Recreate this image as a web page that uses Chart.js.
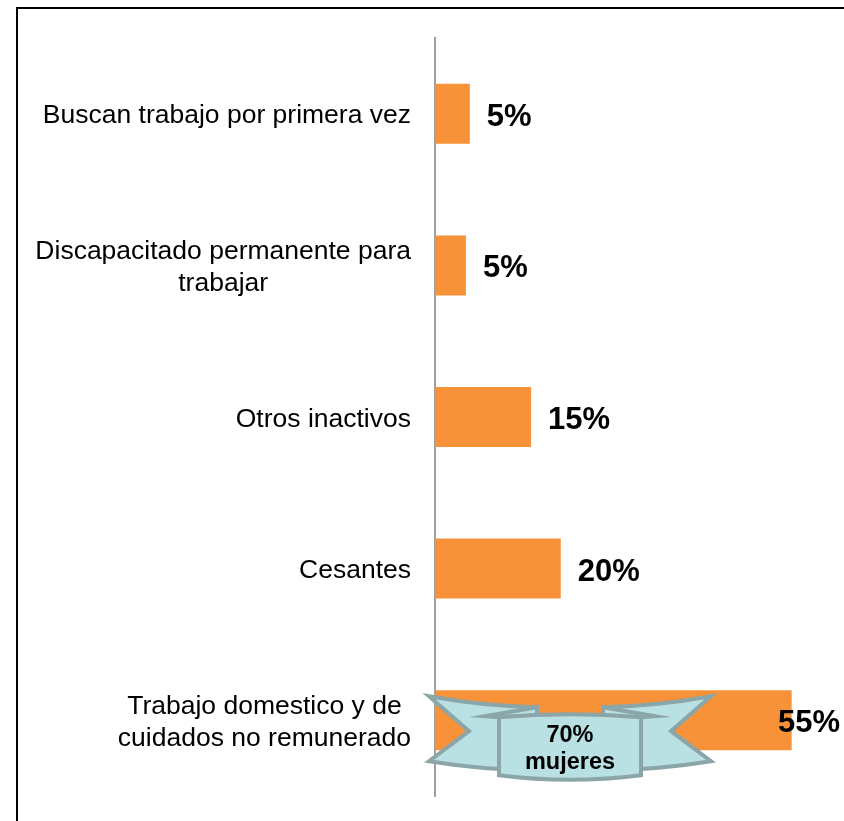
<!DOCTYPE html>
<html>
<head>
<meta charset="utf-8">
<script src="https://cdn.jsdelivr.net/npm/chart.js@4"></script>
<style>
  html, body { margin: 0; padding: 0; background: #fff; overflow: hidden; }
  #wrap { position: relative; width: 844px; height: 821px; }
  #frame { position: absolute; left: 16px; top: 7px; width: 900px; height: 900px;
           border-top: 2px solid #000; border-left: 2px solid #000; }
  canvas { position: absolute; left: 0; top: 0; }
</style>
</head>
<body>
<div id="wrap">
  <div id="frame"></div>
  <canvas id="barChart" width="844" height="821"></canvas>
</div>
<script>
// categorias (de arriba hacia abajo) y valores
const categories = [
  ['Buscan trabajo por primera vez'],
  ['Discapacitado permanente para', 'trabajar'],
  ['Otros inactivos'],
  ['Cesantes'],
  ['Trabajo domestico y de', 'cuidados no remunerado']
];
const values = [5.4, 4.8, 14.9, 19.5, 55.3];
const valueLabels = ['5%', '5%', '15%', '20%', '55%'];
const ribbonText = ['70%', 'mujeres'];
const ribbonIndex = 4;

const barColor = '#F79239';

// etiquetas de categoria: bloque alineado a la derecha, lineas centradas
const categoryLabels = {
    id: 'categoryLabels',
    afterDraw(chart) {
        const ctx = chart.ctx;
        const yScale = chart.scales.y;
        const right = chart.chartArea.left - 24;
        ctx.save();
        ctx.font = '26.5px "Liberation Sans", Arial, sans-serif';
        ctx.fillStyle = '#000';
        ctx.textAlign = 'center';
        ctx.textBaseline = 'alphabetic';
        categories.forEach((lines, i) => {
            const yc = yScale.getPixelForValue(i);
            const w = Math.max(...lines.map(l => ctx.measureText(l).width));
            const lh = 32;
            const first = yc + 9.5 - (lines.length - 1) * lh / 2;
            lines.forEach((l, j) => {
                ctx.fillText(l, right - w / 2, first + j * lh);
            });
        });
        ctx.restore();
    }
};

// porcentajes a la derecha de cada barra
const valueLabelPlugin = {
    id: 'valueLabels',
    afterDatasetsDraw(chart) {
        const ctx = chart.ctx;
        const meta = chart.getDatasetMeta(0);
        ctx.save();
        ctx.font = 'bold 31px "Liberation Sans", Arial, sans-serif';
        ctx.fillStyle = '#000';
        ctx.textAlign = 'left';
        ctx.textBaseline = 'alphabetic';
        meta.data.forEach((bar, i) => {
            const txt = valueLabels[i];
            const w = ctx.measureText(txt).width;
            let x = bar.x + 17;
            if (x + w > chart.width - 4) x = chart.width - 4 - w;
            ctx.fillText(txt, x, bar.y + 12);
        });
        ctx.restore();
    }
};

// cinta "70% mujeres" sobre la ultima barra
const ribbonPlugin = {
    id: 'ribbon',
    afterDatasetsDraw(chart) {
        const ctx = chart.ctx;
        const bar = chart.getDatasetMeta(0).data[ribbonIndex];
        const cx = chart.chartArea.left + 135;
        const cy = bar.y;
        ctx.save();
        ctx.lineWidth = 4;
        ctx.lineJoin = 'miter';
        ctx.strokeStyle = '#8BA6A8';
        ctx.fillStyle = '#B9E0E3';

        // alas (cada una por separado, la parte central queda oculta)
        [-1, 1].forEach(s => {
            ctx.beginPath();
            ctx.moveTo(cx + s * 141, cy - 24);
            ctx.quadraticCurveTo(cx + s * 85, cy - 14, cx + s * 33, cy - 13);
            ctx.lineTo(cx + s * 33, cy + 50);
            ctx.quadraticCurveTo(cx + s * 85, cy + 50, cx + s * 141, cy + 41);
            ctx.lineTo(cx + s * 101, cy + 11);
            ctx.closePath();
            ctx.fill();
            ctx.stroke();
        });

        // pliegues
        [-1, 1].forEach(s => {
            ctx.beginPath();
            ctx.moveTo(cx + s * 85, cy - 4);
            ctx.lineTo(cx + s * 33, cy - 13);
            ctx.lineTo(cx + s * 33, cy - 5);
            ctx.lineTo(cx + s * 71, cy - 3);
            ctx.closePath();
            ctx.fill();
            ctx.stroke();
        });

        // panel central
        ctx.beginPath();
        ctx.moveTo(cx - 71, cy - 3);
        ctx.quadraticCurveTo(cx, cy - 9, cx + 71, cy - 3);
        ctx.lineTo(cx + 71, cy + 55);
        ctx.quadraticCurveTo(cx, cy + 64, cx - 71, cy + 55);
        ctx.closePath();
        ctx.fill();
        ctx.stroke();

        ctx.fillStyle = '#000';
        ctx.font = 'bold 23.5px "Liberation Sans", Arial, sans-serif';
        ctx.textAlign = 'center';
        ctx.fillText(ribbonText[0], cx, cy + 22);
        ctx.fillText(ribbonText[1], cx, cy + 49);
        ctx.restore();
    }
};

const ctx = document.getElementById('barChart').getContext('2d');
new Chart(ctx, {
    type: 'bar',
    data: {
        labels: categories,
        datasets: [{
            data: values,
            backgroundColor: barColor,
            borderWidth: 0,
            categoryPercentage: 1,
            barPercentage: 0.396
        }]
    },
    options: {
        indexAxis: 'y',
        responsive: false,
        animation: false,
        layout: { padding: { left: 435, right: 22, top: 38, bottom: 25 } },
        plugins: {
            legend: { display: false },
            tooltip: { enabled: false }
        },
        scales: {
            x: { display: false, min: 0, max: 60 },
            y: {
                display: true,
                ticks: { display: false },
                grid: { display: false, drawTicks: false },
                border: { display: true, color: '#A0A0A0', width: 2 }
            }
        }
    },
    plugins: [categoryLabels, valueLabelPlugin, ribbonPlugin]
});
</script>
</body>
</html>
